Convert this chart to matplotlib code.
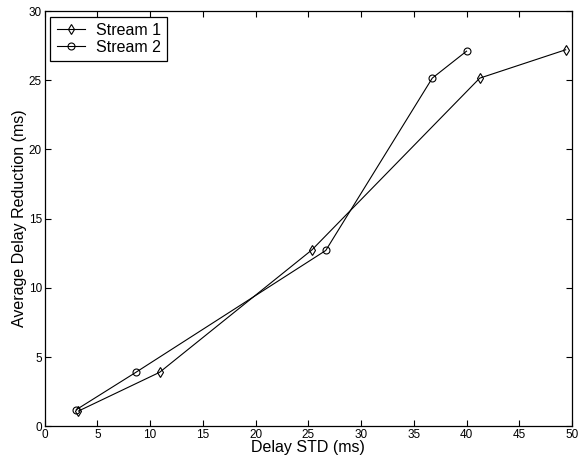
import matplotlib
matplotlib.use('Agg')
import matplotlib.pyplot as plt

plt.rcParams['font.family'] = ['Liberation Sans', 'DejaVu Sans']

# Datos
std_s1 = [3.2, 10.9, 25.35, 41.25, 49.4]
red_s1 = [1.1, 3.9, 12.75, 25.15, 27.2]
std_s2 = [3.0, 8.65, 26.65, 36.75, 40.0]
red_s2 = [1.2, 3.9, 12.7, 25.15, 27.1]
xticks = list(range(0, 51, 5))
yticks = list(range(0, 31, 5))

fig = plt.figure(figsize=(5.78, 4.63), dpi=100)
ax = fig.add_axes([0.0773, 0.0793, 0.9123, 0.8969])

ax.plot(std_s1, red_s1, color='black', linewidth=0.8, marker='d',
        markersize=5.5, markerfacecolor='none', markeredgewidth=0.8, label='Stream 1')
ax.plot(std_s2, red_s2, color='black', linewidth=0.8, marker='o',
        markersize=5, markerfacecolor='none', markeredgewidth=0.8, label='Stream 2')

ax.set_xlim(0, 50)
ax.set_ylim(0, 30)
ax.set_xticks(xticks)
ax.set_yticks(yticks)
ax.tick_params(direction='in', top=True, right=True, length=4, width=0.8,
               labelsize=8.5, pad=2)
for s in ax.spines.values():
    s.set_linewidth(0.9)

ax.set_xlabel('Delay STD (ms)', fontsize=11.5, labelpad=-1)
ax.set_ylabel('Average Delay Reduction (ms)', fontsize=11.5, labelpad=1)

# Leyenda estilo MATLAB, recuadro negro sin esquinas redondeadas
leg = ax.legend(loc='upper left', fontsize=11.5, fancybox=False, framealpha=1,
                edgecolor='black', handlelength=1.8, borderaxespad=0.35,
                borderpad=0.4, labelspacing=0.12, handletextpad=0.65)
leg.get_frame().set_linewidth(0.9)

fig.savefig('out.png', dpi=100)
plt.close(fig)
